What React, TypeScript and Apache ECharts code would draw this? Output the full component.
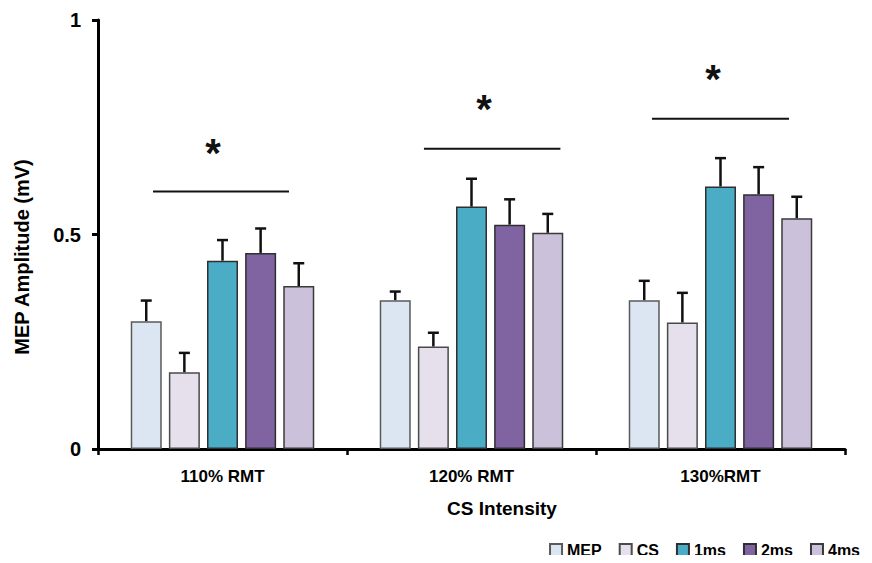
import React, { useEffect, useRef } from "react";
import * as echarts from "echarts";

const categories = ["110% RMT", "120% RMT", "130%RMT"];
const seriesNames = ["MEP", "CS", "1ms", "2ms", "4ms"];
const mepValues = [0.298, 0.347, 0.347];
const csValues = [0.179, 0.239, 0.295];
const ms1Values = [0.439, 0.565, 0.612];
const ms2Values = [0.457, 0.523, 0.594];
const ms4Values = [0.38, 0.504, 0.538];
const mepErrors = [0.048, 0.02, 0.045];
const csErrors = [0.045, 0.032, 0.069];
const ms1Errors = [0.048, 0.065, 0.066];
const ms2Errors = [0.057, 0.059, 0.063];
const ms4Errors = [0.053, 0.044, 0.05];
const yTicks = [0, 0.5, 1];
// significance annotations: line level, line start/end (fraction of category band), star level and offset
const sigLineLevel = [0.6, 0.7, 0.77];
const sigLineStart = [-0.279, -0.191, -0.275];
const sigLineEnd = [0.267, 0.357, 0.275];
const sigStarLevel = [0.69, 0.792, 0.862];
const sigStarOffset = [-0.038, 0.05, -0.03];

const colors = ["#DCE6F2", "#E6E0EC", "#4BACC6", "#8064A2", "#CCC1DA"];
const borderColors = ["#5a5a5a", "#4a4a4a", "#2f2f2f", "#2f2f2f", "#3a3a3a"];
const FONT = "'Liberation Sans', Arial, sans-serif";
const BAR_W = 31;
const BAR_GAP = 0.23;

export default function App() {
  const ref = useRef<HTMLDivElement>(null);
  useEffect(() => {
    if (!ref.current) return;
    const chart = echarts.init(ref.current, null, { renderer: "svg" });
    const values = [mepValues, csValues, ms1Values, ms2Values, ms4Values];
    const errors = [mepErrors, csErrors, ms1Errors, ms2Errors, ms4Errors];

    const barSeries = seriesNames.map((name, i) => ({
      name,
      type: "bar",
      data: values[i],
      barWidth: BAR_W,
      barGap: BAR_GAP * 100 + "%",
      itemStyle: { color: colors[i], borderColor: borderColors[i], borderWidth: 1.5 },
      z: 2,
    }));

    const errSeries = seriesNames.map((name, i) => ({
      name: name + " err",
      type: "custom",
      z: 3,
      data: categories.map((_, c) => [c, values[i][c], errors[i][c]]),
      renderItem: (params: any, api: any) => {
        const c = api.value(0);
        const v = api.value(1);
        const e = api.value(2);
        const base = api.coord([c, v]);
        const top = api.coord([c, v + e]);
        const stride = BAR_W * (1 + BAR_GAP);
        const x = base[0] + (i - 2) * stride;
        const st = { stroke: "#111", lineWidth: 2.5 };
        return {
          type: "group",
          children: [
            { type: "line", shape: { x1: x, y1: base[1], x2: x, y2: top[1] }, style: st },
            { type: "line", shape: { x1: x - 5.5, y1: top[1], x2: x + 5.5, y2: top[1] }, style: st },
          ],
        };
      },
    }));

    const sigSeries = {
      name: "sig",
      type: "custom",
      z: 4,
      data: categories.map((_, c) => [c, sigLineLevel[c], sigLineStart[c], sigLineEnd[c], sigStarLevel[c], sigStarOffset[c]]),
      renderItem: (params: any, api: any) => {
        const c = api.value(0);
        const p = api.coord([c, api.value(1)]);
        const band = api.size([1, 0])[0];
        const s = api.coord([c, api.value(4)]);
        return {
          type: "group",
          children: [
            {
              type: "line",
              shape: { x1: p[0] + api.value(2) * band, y1: p[1], x2: p[0] + api.value(3) * band, y2: p[1] },
              style: { stroke: "#111", lineWidth: 2 },
            },
            {
              type: "text",
              style: {
                text: "*",
                x: s[0] + api.value(5) * band,
                y: s[1],
                fill: "#111",
                font: "bold 40px " + FONT,
                textAlign: "center",
                textVerticalAlign: "middle",
                align: "center",
                verticalAlign: "middle",
              },
            },
          ],
        };
      },
    };

    chart.setOption({
      animation: false,
      grid: { left: 98, right: 27, top: 20, bottom: 114, containLabel: false },
      legend: {
        data: seriesNames,
        right: 12,
        top: 542,
        padding: 0,
        itemWidth: 12,
        itemHeight: 12,
        itemGap: 17,
        icon: "rect",
        textStyle: { fontFamily: FONT, fontWeight: "bold", fontSize: 16, color: "#000" },
      },
      xAxis: {
        type: "category",
        data: categories,
        axisLine: { lineStyle: { color: "#000", width: 3 } },
        axisTick: { show: true, length: 6, lineStyle: { color: "#000", width: 2.5 }, alignWithLabel: false },
        axisLabel: { fontFamily: FONT, fontWeight: "bold", fontSize: 17, color: "#000", margin: 19 },
      },
      yAxis: {
        type: "value",
        min: 0,
        max: 1,
        interval: 0.5,
        splitLine: { show: false },
        axisLine: { show: true, lineStyle: { color: "#000", width: 3 } },
        axisTick: { show: true, length: 6, lineStyle: { color: "#000", width: 3 } },
        axisLabel: {
          fontFamily: FONT,
          fontWeight: "bold",
          fontSize: 20,
          color: "#000",
          margin: 17,
          formatter: (v: number) => (yTicks.includes(v) ? String(v) : ""),
        },
      },
      graphic: [
        {
          type: "text",
          x: 22,
          y: 257,
          rotation: Math.PI / 2,
          style: {
            text: "MEP Amplitude (mV)",
            font: "bold 20px " + FONT,
            fill: "#000",
            textAlign: "center",
            textVerticalAlign: "middle",
          },
        },
        {
          type: "text",
          x: 502,
          y: 508,
          style: {
            text: "CS Intensity",
            font: "bold 19px " + FONT,
            fill: "#000",
            textAlign: "center",
            textVerticalAlign: "middle",
          },
        },
      ],
      series: [...barSeries, ...errSeries, sigSeries],
    });
    return () => chart.dispose();
  }, []);
  return <div ref={ref} style={{ width: 872, height: 563, margin: -8 }} />;
}
